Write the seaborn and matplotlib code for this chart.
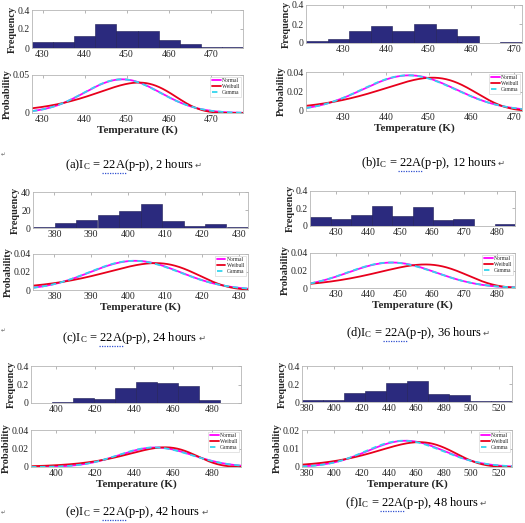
import math
import numpy as np
import pandas as pd
import matplotlib
matplotlib.use('Agg')
from matplotlib import pyplot as plt
from matplotlib.ticker import FormatStrFormatter
from matplotlib.lines import Line2D
import seaborn as sns

# ---- dados (6 paineis: a..f) ----
captions = ['(a)', '(b)', '(c)', '(d)', '(e)', '(f)']
hours = [2, 12, 24, 36, 42, 48]

# faixa de temperatura de cada painel (min, max) -> 10 classes
temp_range_a = (427.5, 477.7)
temp_range_b = (421.3, 471.9)
temp_range_c = (374.2, 432.5)
temp_range_d = (422.0, 485.7)
temp_range_e = (387.0, 494.9)
temp_range_f = (376.3, 529.8)

freq_a = [0.06, 0.06, 0.13, 0.25, 0.18, 0.18, 0.08, 0.04, 0.006, 0.006]
freq_b = [0.021, 0.042, 0.122, 0.184, 0.122, 0.20, 0.143, 0.073, 0.003, 0.01]
freq_c = [1, 6, 9, 14, 19, 27, 8, 2, 4, 1]
freq_d = [0.102, 0.075, 0.121, 0.226, 0.109, 0.215, 0.072, 0.083, 0.0, 0.019]
freq_e = [0.003, 0.011, 0.054, 0.04, 0.162, 0.223, 0.216, 0.184, 0.032, 0.003]
freq_f = [0.019, 0.019, 0.10, 0.122, 0.215, 0.233, 0.093, 0.081, 0.015, 0.007]

# ajustes: normal (media, desvio), weibull (forma k, escala), gamma (media, desvio)
normal_a, weibull_a, gamma_a = (449.0, 9.0), (49.3, 453.1), (449.0, 9.0)
normal_b, weibull_b, gamma_b = (445.5, 10.9), (41.9, 451.2), (445.5, 10.9)
normal_c, weibull_c, gamma_c = (401.9, 12.3), (33.1, 407.8), (401.9, 12.3)
normal_d, weibull_d, gamma_d = (447.5, 13.7), (33.5, 458.2), (447.5, 13.7)
normal_e, weibull_e, gamma_e = (451.1, 18.9), (26.4, 456.6), (451.1, 18.9)
normal_f, weibull_f, gamma_f = (452.2, 28.1), (16.9, 463.7), (452.2, 28.1)

xticks_a = [430, 440, 450, 460, 470]
xticks_b = [430, 440, 450, 460, 470]
xticks_c = [380, 390, 400, 410, 420, 430]
xticks_d = [430, 440, 450, 460, 470, 480]
xticks_e = [400, 420, 440, 460, 480]
xticks_f = [380, 400, 420, 440, 460, 480, 500, 520]

freq_yticks = [[0, 0.2, 0.4], [0, 0.2, 0.4], [0, 20, 40],
               [0, 0.2, 0.4], [0, 0.2, 0.4], [0, 0.2, 0.4]]
prob_yticks = [[0, 0.05], [0, 0.02, 0.04], [0, 0.02, 0.04],
               [0, 0.02, 0.04], [0, 0.02, 0.04], [0, 0.01, 0.02]]

# ---- funcoes densidade ----
def pdf_normal(x, mu, sd):
    return np.exp(-(x - mu) ** 2 / (2 * sd ** 2)) / (sd * math.sqrt(2 * math.pi))

def pdf_weibull(x, k, lam):
    return (k / lam) * (x / lam) ** (k - 1) * np.exp(-(x / lam) ** k)

def pdf_gamma(x, mu, sd):
    a = mu ** 2 / sd ** 2
    th = sd ** 2 / mu
    return np.exp((a - 1) * np.log(x) - x / th - math.lgamma(a) - a * math.log(th))

# ---- estilo ----
sns.set_theme(style='white')
plt.rcParams['font.family'] = ['Liberation Serif', 'DejaVu Sans']
plt.rcParams['mathtext.fontset'] = 'custom'
plt.rcParams['mathtext.rm'] = 'Liberation Serif'
plt.rcParams['mathtext.it'] = 'Liberation Serif'

W, H = 525, 523
fig = plt.figure(figsize=(W / 100, H / 100), dpi=100)
fig.patch.set_facecolor('white')

def rect(x0, x1, y0, y1):
    return [x0 / W, 1 - y1 / H, (x1 - x0) / W, (y1 - y0) / H]

# posicoes (px) : x0, x1, hist y0, y1, prob y0, y1, legenda cx, cy
layout = [
    (32, 243, 10, 48, 75, 113, 130, 165),
    (306, 522, 5, 43, 72, 111, 429, 163),
    (33, 248, 192, 228, 254, 290, 130, 338),
    (310, 515, 191, 226, 253, 288, 414, 333),
    (31, 241, 366, 403, 430, 467, 133, 512),
    (302, 512, 366, 402, 430, 467, 412, 503),
]

ranges = [temp_range_a, temp_range_b, temp_range_c, temp_range_d, temp_range_e, temp_range_f]
freqs = [freq_a, freq_b, freq_c, freq_d, freq_e, freq_f]
normals = [normal_a, normal_b, normal_c, normal_d, normal_e, normal_f]
weibulls = [weibull_a, weibull_b, weibull_c, weibull_d, weibull_e, weibull_f]
gammas = [gamma_a, gamma_b, gamma_c, gamma_d, gamma_e, gamma_f]
xticks_all = [xticks_a, xticks_b, xticks_c, xticks_d, xticks_e, xticks_f]

BAR = '#2B2A7E'
SPINE = '#b5b5b5'

def estilo(ax, xt, yt, lo, hi):
    ax.set_xlim(lo, hi)
    ax.set_ylim(yt[0], yt[-1])
    ax.set_xticks(xt)
    ax.set_yticks(yt)
    ax.yaxis.set_major_formatter(FormatStrFormatter('%g'))
    ax.tick_params(direction='in', length=2, width=0.5, color='#999999',
                   labelsize=7, pad=1.5, top=True, right=True)
    for s in ax.spines.values():
        s.set_color(SPINE)
        s.set_linewidth(0.6)
    ax.grid(False)

textos = []
for i in range(6):
    x0, x1, hy0, hy1, py0, py1, cx, cy = layout[i]
    lo, hi = ranges[i]
    largura = (hi - lo) / 10
    df = pd.DataFrame({'T': [lo + largura * (j + 0.5) for j in range(10)],
                       'f': freqs[i]})

    axh = fig.add_axes(rect(x0, x1, hy0, hy1))
    sns.histplot(data=df, x='T', weights='f', bins=10, binrange=(lo, hi),
                 color=BAR, alpha=1, edgecolor='#1c1b55', linewidth=0.4, ax=axh)
    estilo(axh, xticks_all[i], freq_yticks[i], lo, hi)
    axh.set_xlabel('')
    axh.set_ylabel('Frequency', fontsize=7.5, fontweight='bold', labelpad=0.5)

    axp = fig.add_axes(rect(x0, x1, py0, py1))
    xs = np.linspace(lo, hi, 400)
    curvas = pd.DataFrame({
        'T': xs,
        'Normal': pdf_normal(xs, *normals[i]),
        'Weibull': pdf_weibull(xs, *weibulls[i]),
        'Gamma': pdf_gamma(xs, *gammas[i]),
    })
    sns.lineplot(data=curvas, x='T', y='Normal', color='#FF00FF', linewidth=1.3,
                 label='Normal', ax=axp)
    sns.lineplot(data=curvas, x='T', y='Weibull', color='#E8001C', linewidth=1.3,
                 label='Weibull', ax=axp)
    sns.lineplot(data=curvas, x='T', y='Gamma', color='#33D6EE', linewidth=1.3,
                 linestyle=(0, (3, 2)), label='Gamma', ax=axp)
    estilo(axp, xticks_all[i], prob_yticks[i], lo, hi)
    axp.set_xlabel('Temperature (K)', fontsize=8, fontweight='bold', labelpad=1)
    axp.set_ylabel('Probability', fontsize=7.5, fontweight='bold', labelpad=0.5)
    leg = axp.legend(loc='upper right', fontsize=4, handlelength=1.6,
                     handletextpad=0.3, labelspacing=0.15, borderpad=0.3,
                     fancybox=False, framealpha=1, borderaxespad=0.3)
    leg.get_frame().set_edgecolor('#d0d0d0')
    leg.get_frame().set_linewidth(0.4)

    prefixo = captions[i] + r'I$_\mathrm{C}$ = '
    t = fig.text(cx / W, 1 - cy / H,
                 prefixo + '22A(p-p), %d hours' % hours[i],
                 ha='center', va='center', fontsize=9, color='black')
    textos.append((t, prefixo))

# marca de paragrafo (↵) e sublinhado ortografico azul sob "22A"
fig.canvas.draw()
rend = fig.canvas.get_renderer()
for t, prefixo in textos:
    bb = t.get_window_extent(rend)
    fig.text((bb.x1 + 0.5) / W, (bb.y0 + bb.y1) / 2 / H, '\u21b5',
             family='DejaVu Sans', fontsize=6, color='#555555',
             ha='left', va='center')
    m1 = fig.text(0, 0, prefixo, fontsize=9)
    m2 = fig.text(0, 0, prefixo + '22A', fontsize=9)
    w1 = m1.get_window_extent(rend).width
    w2 = m2.get_window_extent(rend).width
    m1.remove()
    m2.remove()
    xa, xb = bb.x0 + w1, bb.x0 + w2
    ys = bb.y0 + 0.5
    fig.add_artist(Line2D([xa / W, xb / W], [ys / H, ys / H],
                          color='#3050d0', linewidth=0.9, linestyle=(0, (1, 1)),
                          transform=fig.transFigure))

# marcas de paragrafo do documento original
for yy in [155, 331, 513]:
    fig.text(3 / W, 1 - yy / H, '\u21b5', fontsize=4, color='#666666',
             family='DejaVu Sans', ha='center', va='center')

fig.savefig('out.png', dpi=100, facecolor='white')
